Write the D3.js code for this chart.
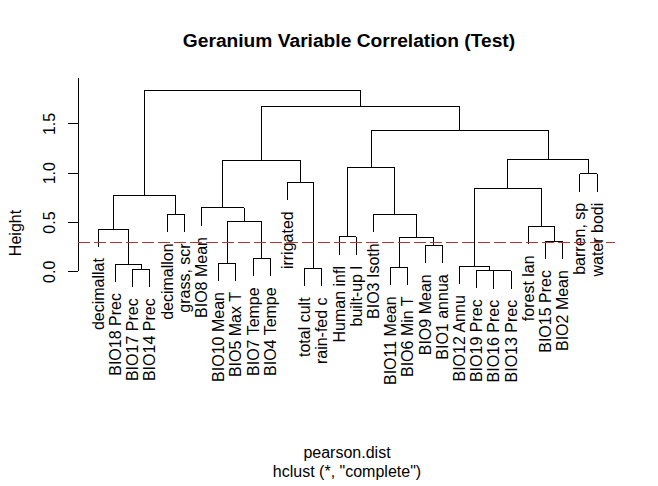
<!DOCTYPE html>
<html><head><meta charset="utf-8">
<script src="https://cdn.jsdelivr.net/npm/d3@7"></script>
<style>
body{margin:0;background:#fff;}
svg{display:block;}
text{font-family:"Liberation Sans",Arial,sans-serif;fill:#000;}
</style></head>
<body><div id="chart"></div>
<script>
// Leaf labels in plotted order
const labels = ["decimallat","BIO18 Prec","BIO17 Prec","BIO14 Prec","decimallon","grass, scr","BIO8 Mean",
  "BIO10 Mean","BIO5 Max T","BIO7 Tempe","BIO4 Tempe","irrigated","total cult","rain-fed c","Human infl",
  "built-up l","BIO3 Isoth","BIO11 Mean","BIO6 Min T","BIO9 Mean","BIO1 annua","BIO12 Annu","BIO19 Prec",
  "BIO16 Prec","BIO13 Prec","forest lan","BIO15 Prec","BIO2 Mean","barren, sp","water bodi"];
// Merge steps (R hclust style): negative = leaf number (1-based, plotted order), positive = earlier merge step
const merges = [
  [-24,-25],[-23,1],[-3,-4],[-13,-14],[-18,-19],[-22,2],[-2,3],[-8,-9],[-10,-11],[-20,-21],
  [-27,-28],[-15,-16],[5,10],[-1,7],[-26,11],[8,9],[-5,-6],[-17,13],[-7,16],[14,17],
  [6,15],[-12,4],[-29,-30],[12,18],[19,22],[21,23],[24,26],[25,27],[20,28]
];
const heights = [0.006,0.010,0.020,0.030,0.040,0.052,0.074,0.084,0.132,0.264,
  0.307,0.348,0.346,0.429,0.456,0.507,0.578,0.578,0.642,0.771,
  0.842,0.903,0.990,1.055,1.126,1.136,1.430,1.676,1.836];
const yTicks = [0, 0.5, 1.0, 1.5];
const cutHeight = 0.3;
const title = "Geranium Variable Correlation (Test)";
const xlab = "pearson.dist";
const sub = "hclust (*, \"complete\")";
const ylab = "Height";

const W = 658, H = 486;
const svg = d3.select("#chart").append("svg").attr("width", W).attr("height", H);

const x = d3.scaleLinear().domain([1, labels.length]).range([98.3, 597]);
const y = d3.scaleLinear().domain([0, 1.5]).range([271.3, 123.4]);
const plotLeft = 78, plotRight = 615;
const hang = 0.1 * (d3.max(heights) - d3.min(heights));

// compute node positions
const nodeX = [], nodeH = heights;
function cx(ref){ return ref < 0 ? x(-ref) : nodeX[ref-1]; }
merges.forEach((m,i)=>{ nodeX[i] = (cx(m[0]) + cx(m[1]))/2; });

const g = svg.append("g").attr("stroke","#000").attr("stroke-width",1).attr("fill","none")
  .attr("shape-rendering","crispEdges");
const leafEnd = {};
merges.forEach((m,i)=>{
  const h = nodeH[i];
  const x1 = cx(m[0]), x2 = cx(m[1]);
  g.append("line").attr("x1",x1).attr("x2",x2).attr("y1",y(h)).attr("y2",y(h));
  m.forEach(ref=>{
    const bottom = ref < 0 ? h - hang : nodeH[ref-1];
    if (ref < 0) leafEnd[-ref] = bottom;
    g.append("line").attr("x1",cx(ref)).attr("x2",cx(ref)).attr("y1",y(h)).attr("y2",y(bottom));
  });
});

// leaf labels
labels.forEach((lab,i)=>{
  const k = i+1;
  svg.append("text").attr("transform",`translate(${x(k)+5.6},${y(leafEnd[k])+11}) rotate(-90)`)
    .attr("text-anchor","end").attr("font-size",16).text(lab);
});

// y axis
const yAxisTop = 1.963;
svg.append("line").attr("x1",plotLeft).attr("x2",plotLeft).attr("y1",y(0)).attr("y2",y(yAxisTop))
  .attr("stroke","#000").attr("shape-rendering","crispEdges");
const axis = d3.axisLeft(y).tickValues(yTicks).tickSize(9.6).tickFormat(d3.format(".1f"));
const ag = svg.append("g").attr("transform",`translate(${plotLeft},0)`).call(axis);
ag.select(".domain").remove();
ag.selectAll(".tick line").attr("stroke","#000").attr("shape-rendering","crispEdges");
ag.selectAll(".tick text").attr("x",null).attr("dy",null).attr("font-size",16)
  .attr("font-family","'Liberation Sans',Arial,sans-serif").attr("fill","#000")
  .attr("text-anchor","middle").attr("transform",`translate(${55-plotLeft},0) rotate(-90)`);

// cut line
const cy = Math.round(y(cutHeight)) + 0.5;
svg.append("line").attr("x1",plotLeft).attr("x2",plotRight).attr("y1",cy).attr("y2",cy)
  .attr("stroke","#b83434").attr("stroke-width",1.1).attr("stroke-dasharray","12,4");

// titles
svg.append("text").attr("x",349).attr("y",46.7).attr("text-anchor","middle")
  .attr("font-size",19.2).attr("font-weight","bold").text(title);
svg.append("text").attr("x",347).attr("y",457.5).attr("text-anchor","middle").attr("font-size",16).text(xlab);
svg.append("text").attr("x",347).attr("y",476.5).attr("text-anchor","middle").attr("font-size",16).text(sub);
svg.append("text").attr("transform","translate(21,233) rotate(-90)").attr("text-anchor","middle")
  .attr("font-size",16).text(ylab);
</script></body></html>
